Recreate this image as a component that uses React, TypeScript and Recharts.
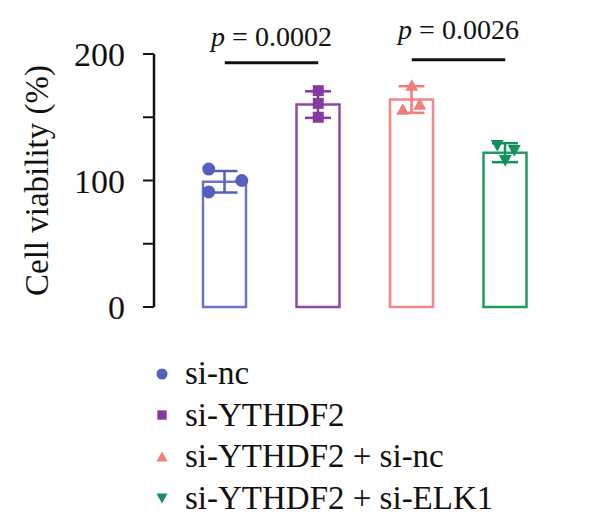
import {
  Bar,
  ComposedChart,
  ErrorBar,
  Legend,
  ReferenceLine,
  Scatter,
  XAxis,
  YAxis,
} from 'recharts'

const groups = ['si-nc', 'si-YTHDF2', 'si-YTHDF2 + si-nc', 'si-YTHDF2 + si-ELK1']
const means = [99, 160, 164, 122]
const sds = [8.5, 10.5, 10.5, 7.5]
const replicates = [
  [109, 100, 91],
  [171, 161, 150],
  [175, 160, 156],
  [128, 124, 116],
]
const yTicks = [0, 50, 100, 150, 200]
const comparisons = [
  { from: 'si-nc', to: 'si-YTHDF2', y: 193, p: '0.0002' },
  { from: 'si-YTHDF2 + si-nc', to: 'si-YTHDF2 + si-ELK1', y: 195.5, p: '0.0026' },
]

const FONT = "'Liberation Serif', 'Times New Roman', serif"
const OUTLINE = ['#6a73cb', '#8c49ad', '#f58787', '#1f9a60']
const DOT = ['#5560bd', '#86399f', '#f37c7c', '#13915a']
const SHAPES = ['circle', 'square', 'up', 'down'] as const
// horizontal scatter of the replicate markers inside each bar
const JITTER = [
  [-16, 17, -16],
  [0, 0, 0],
  [0, 8, -9],
  [-8, 9, 0],
]

const table = groups.map((group, i) => {
  const row: Record<string, string | number> = { group }
  row[`m${i}`] = means[i]
  row[`e${i}`] = sds[i]
  replicates[i].forEach((v, k) => {
    row[`r${k}`] = v
  })
  return row
})

function Marker(props: any) {
  const { cx, cy, payload, rep } = props
  if (cx == null || cy == null) return null
  const gi = groups.indexOf(payload.group)
  const x = cx + JITTER[gi][rep]
  return <Glyph shape={SHAPES[gi]} color={DOT[gi]} x={x} y={cy} />
}

function Glyph({ shape, color, x, y, s = 1 }: { shape: string; color: string; x: number; y: number; s?: number }) {
  if (shape === 'circle') return <circle cx={x} cy={y} r={6.5 * s} fill={color} />
  if (shape === 'square') return <rect x={x - 5.5 * s} y={y - 5.5 * s} width={11 * s} height={11 * s} fill={color} />
  const h = 6.5 * s
  const dir = shape === 'up' ? 1 : -1
  return (
    <polygon
      points={`${x},${y - dir * h} ${x - h},${y + dir * h * 0.8} ${x + h},${y + dir * h * 0.8}`}
      fill={color}
    />
  )
}

function PValue(props: any) {
  const { viewBox, p, lift } = props
  if (!viewBox) return null
  const x = viewBox.x + viewBox.width / 2
  const y = viewBox.y - lift
  return (
    <text x={x} y={y} textAnchor="middle" fontFamily={FONT} fontSize={28} fill="#111">
      <tspan fontStyle="italic">p</tspan>
      <tspan>{` = ${p}`}</tspan>
    </text>
  )
}

function GroupLegend() {
  return (
    <div style={{ fontFamily: FONT, fontSize: 33, color: '#111' }}>
      {groups.map((g, i) => (
        <div key={g} style={{ display: 'flex', alignItems: 'center', height: 41.5, whiteSpace: 'nowrap' }}>
          <svg width={16} height={16} style={{ marginRight: 15 }}>
            <Glyph shape={SHAPES[i]} color={DOT[i]} x={8} y={8} s={0.85} />
          </svg>
          <span>{g}</span>
        </div>
      ))}
    </div>
  )
}

export default function App() {
  return (
    <ComposedChart
      width={592}
      height={524}
      data={table}
      margin={{ top: 46, right: 22, bottom: 225, left: 0 }}
    >
      <XAxis
        dataKey="group"
        type="category"
        height={0}
        tick={false}
        tickLine={false}
        axisLine={{ stroke: '#111', strokeWidth: 3 }}
        padding={{ left: 24, right: 26 }}
      />
      <YAxis
        width={146}
        domain={[0, 200]}
        ticks={yTicks}
        interval={0}
        tickSize={11}
        tickMargin={18}
        tickFormatter={(v: number) => (v % 100 === 0 ? String(v) : '')}
        tick={{ fill: '#111', fontSize: 34, fontFamily: FONT }}
        axisLine={{ stroke: '#111', strokeWidth: 2.5 }}
        tickLine={{ stroke: '#111', strokeWidth: 2 }}
        label={{
          value: 'Cell viability (%)',
          angle: -90,
          position: 'insideLeft',
          offset: 28,
          fill: '#111',
          fontSize: 33,
          fontFamily: FONT,
          style: { textAnchor: 'middle' },
        }}
      />
      {groups.map((g, i) => (
        <Bar
          key={g}
          dataKey={`m${i}`}
          stackId="mean"
          barSize={43}
          fill="#fff"
          stroke={OUTLINE[i]}
          strokeWidth={2.5}
          isAnimationActive={false}
        >
          <ErrorBar dataKey={`e${i}`} width={13} stroke={DOT[i]} strokeWidth={2.5} direction="y" />
        </Bar>
      ))}
      {[0, 1, 2].map((k) => (
        <Scatter
          key={k}
          dataKey={`r${k}`}
          isAnimationActive={false}
          shape={(props: any) => <Marker {...props} rep={k} />}
        />
      ))}
      {comparisons.map((c, i) => (
        <ReferenceLine
          key={c.p}
          segment={[
            { x: c.from, y: c.y },
            { x: c.to, y: c.y },
          ]}
          stroke="#111"
          strokeWidth={3}
          label={<PValue p={c.p} lift={i === 0 ? 17 : 21} />}
        />
      ))}
      <Legend
        layout="vertical"
        align="center"
        verticalAlign="middle"
        wrapperStyle={{ left: 146, top: 345, width: 420 }}
        content={() => <GroupLegend />}
      />
    </ComposedChart>
  )
}
